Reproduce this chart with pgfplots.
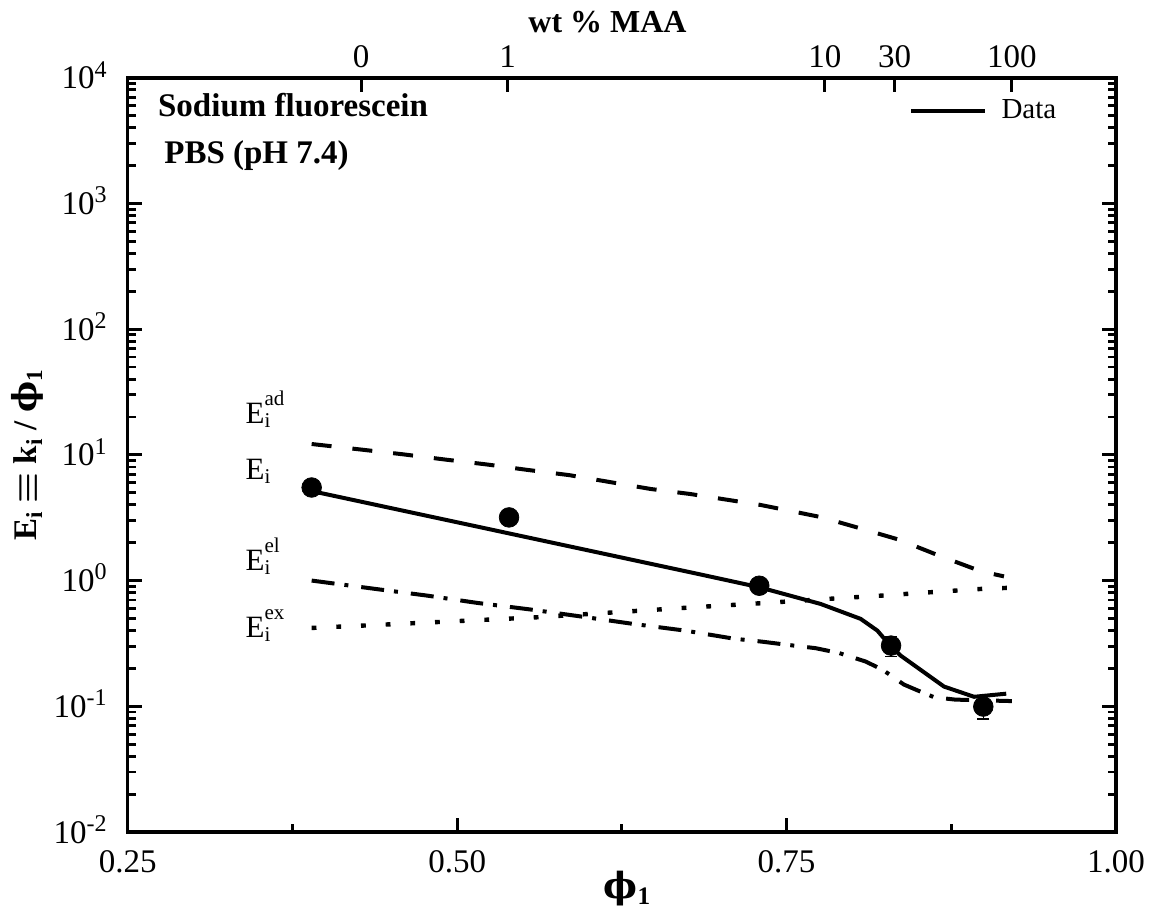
\documentclass[border=0pt]{standalone}
\usepackage{fontspec}
\setmainfont{Liberation Serif}
\newfontfamily\djv{DejaVu Serif}
\usepackage{pgfplots}
\pgfplotsset{compat=1.18}
\newcommand{\tp}[1]{10\raisebox{5.8pt}{\fontsize{12}{12}\selectfont #1}}
\newcommand{\Elab}[2]{E\rlap{\raisebox{-2pt}{\fontsize{10.5}{10.5}\selectfont #1}}\raisebox{9pt}{\fontsize{10.5}{10.5}\selectfont #2}}
\newcommand{\uphi}{{\djv\bfseries ϕ}}
\begin{document}
\begin{tikzpicture}
\begin{axis}[name=main,
  width=494.15pt, height=377.15pt, scale only axis,
  xmin=0.25, xmax=1, ymin=1e-2, ymax=1e4, ymode=log,
  clip=false,
  axis line style={line width=1.8pt},
  every tick/.style={line width=1.4pt, black},
  tick align=inside, major tick length=7pt, minor tick length=4pt,
  xtick={0.25,0.5,0.75,1}, xticklabels={0.25,0.50,0.75,1.00},
  minor xtick={0.375,0.625,0.875}, xtick pos=bottom,
  ytick={1e-2,1e-1,1,1e1,1e2,1e3,1e4},
  yticklabels={\tp{-2},\tp{-1},\tp{0},\tp{1},\tp{2},\tp{3},\tp{4}},
  minor ytick={2e-2,3e-2,4e-2,5e-2,6e-2,7e-2,8e-2,9e-2,
    2e-1,3e-1,4e-1,5e-1,6e-1,7e-1,8e-1,9e-1,
    2,3,4,5,6,7,8,9,20,30,40,50,60,70,80,90,
    200,300,400,500,600,700,800,900,2000,3000,4000,5000,6000,7000,8000,9000},
  ticklabel style={font=\fontsize{16.5}{16.5}\selectfont},
  xticklabel style={anchor=base, inner sep=0pt, yshift=-20pt},
  yticklabel style={anchor=base east, inner sep=0pt, xshift=-10.3pt, yshift=-5.5pt},
  legend style={draw=none, fill=none, at={(0.94,0.956)}, anchor=east, inner sep=0pt,
    font=\fontsize{14.5}{14.5}\selectfont, nodes={inner sep=0pt}, column sep=7.5pt},
  legend image code/.code={\draw[line width=2pt] (0pt,0pt) -- (36.7pt,0pt);},
]
\addplot[black, line width=2pt] coordinates {
(0.3896,5.15) (0.6844,1.12) (0.7293,0.885) (0.7758,0.652) (0.8062,0.496) (0.8189,0.40)
(0.8265,0.323) (0.8366,0.253) (0.8695,0.1435) (0.8923,0.119) (0.9167,0.126)};
\addlegendentry{Data}
\addplot[black, line width=2pt, line cap=butt, dash pattern=on 10pt off 10.5pt, forget plot] coordinates {
(0.3896,12.2) (0.459,10.1) (0.49,9.2) (0.522,8.4) (0.553,7.6) (0.585,6.9) (0.615,6.1)
(0.647,5.35) (0.677,4.88) (0.73,4.0) (0.776,3.2) (0.805,2.62) (0.835,2.12) (0.867,1.56)
(0.898,1.18) (0.915,1.08)};
\addplot[black, line width=2pt, line cap=butt, dash pattern=on 11.5pt off 5pt on 2pt off 6.5pt, forget plot] coordinates {
(0.3896,1.0) (0.441,0.85) (0.477,0.76) (0.515,0.665) (0.555,0.59) (0.594,0.518) (0.633,0.453)
(0.673,0.40) (0.71,0.345) (0.731,0.327) (0.752,0.307) (0.772,0.29) (0.79,0.265) (0.81,0.227)
(0.823,0.195) (0.839,0.149) (0.85,0.133) (0.862,0.118) (0.878,0.113) (0.921,0.11)};
\addplot[black, line width=2.2pt, line cap=butt, dash pattern=on 2.4pt off 9.95pt, forget plot] coordinates {
(0.3896,0.42) (0.4476,0.448) (0.56,0.51) (0.6727,0.607) (0.73,0.66) (0.786,0.72)
(0.8227,0.76) (0.861,0.81) (0.899,0.86) (0.918,0.875)};
\addplot[black, only marks, mark=*, mark size=4.9pt, forget plot,
  error bars/.cd, y dir=both, y explicit,
  error bar style={line width=0.8pt},
  error mark options={rotate=90, mark size=3pt, line width=0.8pt}] coordinates {
(0.3896,5.5) +- (0,0)
(0.5394,3.18) +- (0,0)
(0.7293,0.91) +- (0,0)
(0.8293,0.304) +- (0,0.055)
(0.8993,0.0995) +- (0,0.02)};
\node[anchor=base west, inner sep=0pt, font=\bfseries\fontsize{16.5}{16.5}\selectfont] at (rel axis cs:0.0304,0.948) {Sodium fluorescein};
\node[anchor=base west, inner sep=0pt, font=\bfseries\fontsize{16.5}{16.5}\selectfont] at (rel axis cs:0.0367,0.8856) {PBS (pH 7.4)};
\node[anchor=base west, inner sep=0pt, font=\fontsize{15.5}{15.5}\selectfont] at (rel axis cs:0.1189,0.541) {\Elab{i}{ad}};
\node[anchor=base west, inner sep=0pt, font=\fontsize{15.5}{15.5}\selectfont] at (rel axis cs:0.1189,0.4667) {\Elab{i}{}};
\node[anchor=base west, inner sep=0pt, font=\fontsize{15.5}{15.5}\selectfont] at (rel axis cs:0.1189,0.347) {\Elab{i}{el}};
\node[anchor=base west, inner sep=0pt, font=\fontsize{15.5}{15.5}\selectfont] at (rel axis cs:0.1189,0.2585) {\Elab{i}{ex}};
\node[anchor=base, rotate=90, inner sep=0pt, font=\bfseries\fontsize{16.5}{16.5}\selectfont] at (rel axis cs:-0.0918,0.4998) {E\textsubscript{i} {\boldmath$\equiv$} k\textsubscript{i} / \uphi\textsubscript{1}};
\node[anchor=base, inner sep=0pt, font=\bfseries\fontsize{18}{18}\selectfont] at (rel axis cs:0.5057,-0.0888) {\uphi\textsubscript{1}};
\node[anchor=base, inner sep=0pt, font=\bfseries\fontsize{16}{16}\selectfont] at (rel axis cs:0.4855,1.0593) {wt \% MAA};
\end{axis}
\begin{axis}[
  width=494.15pt, height=377.15pt, scale only axis,
  xmin=0.25, xmax=1, ymin=0, ymax=1,
  axis x line*=top, axis y line=none,
  axis line style={line width=1.8pt},
  every tick/.style={line width=1.4pt, black},
  tick align=inside, major tick length=7pt,
  xtick={0.4272,0.5383,0.779,0.8320,0.9209},
  xticklabels={0,1,10,30,100},
  ticklabel style={font=\fontsize{16.5}{16.5}\selectfont},
  xticklabel style={anchor=base, inner sep=0pt, yshift=4.85pt},
]
\end{axis}
\pgfresetboundingbox
\path (main.south west) ++(-63.85pt,-39.5pt) rectangle ++(575.5pt,455.5pt);
\end{tikzpicture}
\end{document}
